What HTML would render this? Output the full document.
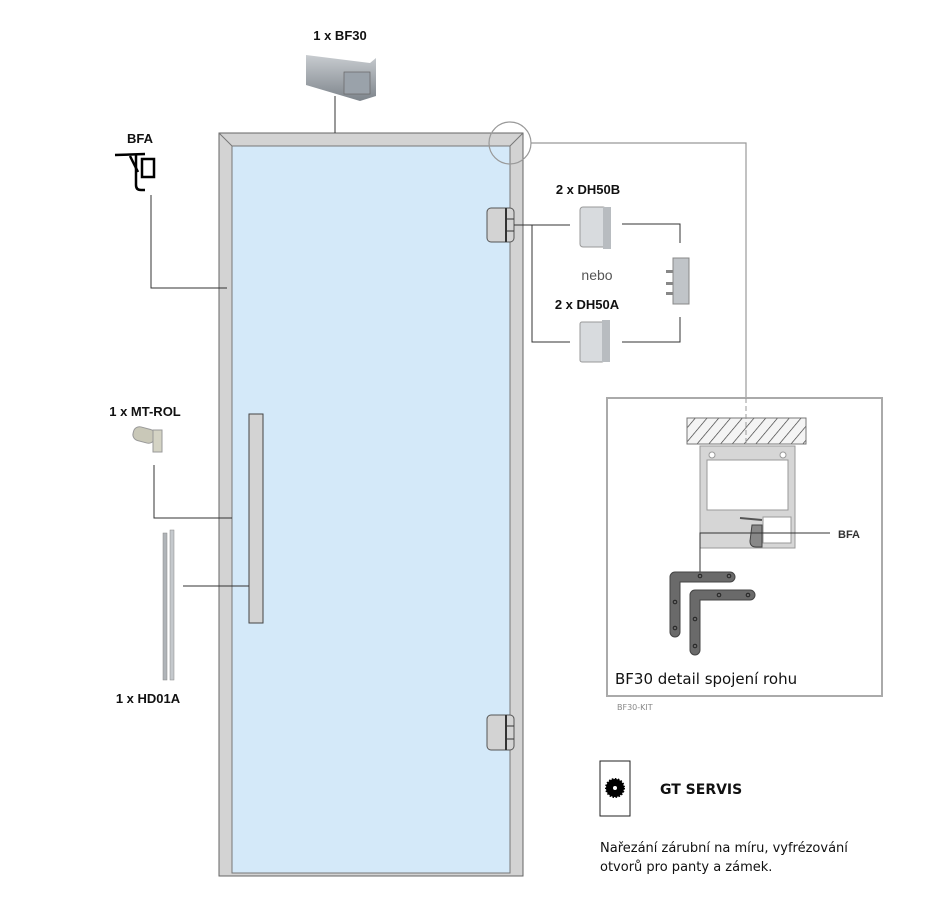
<!DOCTYPE html>
<html><head><meta charset="utf-8"><style>
html,body{margin:0;padding:0;background:#fff;}
svg{display:block}
text{font-family:"Liberation Sans",sans-serif;}
.b{font-weight:bold;font-size:13px;fill:#111}
.v{font-family:"DejaVu Sans",sans-serif;}
</style></head><body>
<svg width="950" height="900" viewBox="0 0 950 900" xmlns="http://www.w3.org/2000/svg">
<defs>
<pattern id="h" width="9" height="9" patternUnits="userSpaceOnUse" patternTransform="rotate(40)">
<rect width="9" height="9" fill="#f4f4f4"/><line x1="0" y1="0" x2="0" y2="9" stroke="#333" stroke-width="1.3"/></pattern>
<linearGradient id="al" x1="0" y1="0" x2="0" y2="1"><stop offset="0" stop-color="#c8ccd0"/><stop offset="1" stop-color="#7d848b"/></linearGradient>
</defs>
<rect x="219" y="133" width="304" height="743" fill="#d3d3d3" stroke="#666" stroke-width="1"/>
<rect x="232" y="146" width="278" height="727" fill="#d4e9f9" stroke="#777" stroke-width="1"/>
<line x1="219" y1="133" x2="232" y2="146" stroke="#777"/>
<line x1="523" y1="133" x2="510" y2="146" stroke="#777"/>
<rect x="249" y="414" width="14" height="209" fill="#d3d3d3" stroke="#444" stroke-width="1"/>
<rect x="487" y="208" width="27" height="34" rx="4" fill="#d3d3d3" stroke="#555"/>
<line x1="506" y1="208" x2="506" y2="242" stroke="#333" stroke-width="2"/>
<line x1="506" y1="219" x2="514" y2="219" stroke="#333"/><line x1="506" y1="231" x2="514" y2="231" stroke="#333"/>
<rect x="487" y="715" width="27" height="35" rx="4" fill="#d3d3d3" stroke="#555"/>
<line x1="506" y1="715" x2="506" y2="750" stroke="#333" stroke-width="2"/>
<line x1="506" y1="726" x2="514" y2="726" stroke="#333"/><line x1="506" y1="739" x2="514" y2="739" stroke="#333"/>
<circle cx="510" cy="143" r="21" fill="none" stroke="#999" stroke-width="1.2"/>
<polyline points="531,143 746,143 746,398" fill="none" stroke="#999" stroke-width="1.2"/>
<g stroke="#333" stroke-width="1" fill="none">
<line x1="335" y1="96" x2="335" y2="133"/>
<polyline points="151,195 151,288 227,288"/>
<polyline points="154,465 154,518 232,518"/>
<line x1="183" y1="586" x2="249" y2="586"/>
<polyline points="514,225 570,225"/>
<polyline points="532,225 532,342 570,342"/>
<polyline points="622,224 680,224 680,243"/>
<polyline points="680,317 680,342 622,342"/>
</g>
<polygon points="306,55 370,63 376,58 376,96 360,101 306,85" fill="url(#al)"/>
<rect x="344" y="72" width="26" height="22" fill="#9aa2aa" stroke="#666" stroke-width="0.7"/>
<text x="340" y="40" class="b" text-anchor="middle">1 x BF30</text>
<text x="140" y="143" class="b" text-anchor="middle">BFA</text>
<g stroke="#000" fill="none" stroke-width="2.5">
<line x1="115" y1="155" x2="145" y2="154"/>
<path d="M136,155 v30 q0,5 5,5 h4"/>
<rect x="142" y="159" width="12" height="18"/>
<path d="M130,156 l8,16"/>
</g>
<g>
<rect x="580" y="207" width="26" height="40" rx="3" fill="#d8dbde" stroke="#999"/>
<rect x="603" y="207" width="8" height="42" fill="#b8bcc0"/>
<rect x="580" y="322" width="24" height="40" rx="2" fill="#d8dbde" stroke="#999"/>
<rect x="602" y="320" width="8" height="42" fill="#b8bcc0"/>
<rect x="673" y="258" width="16" height="46" fill="#c0c4c8" stroke="#888"/>
<rect x="666" y="270" width="7" height="3" fill="#888"/><rect x="666" y="282" width="7" height="3" fill="#888"/><rect x="666" y="292" width="7" height="3" fill="#888"/>
</g>
<text x="588" y="194" class="b" text-anchor="middle">2 x DH50B</text>
<text x="597" y="280" font-size="14" fill="#555" text-anchor="middle">nebo</text>
<text x="587" y="309" class="b" text-anchor="middle">2 x DH50A</text>
<text x="145" y="416" class="b" text-anchor="middle">1 x MT-ROL</text>
<rect x="133" y="428" width="22" height="14" rx="6" fill="#c9c8b8" stroke="#999" transform="rotate(15 144 435)"/>
<rect x="153" y="430" width="9" height="22" fill="#d4d3c4" stroke="#999"/>
<rect x="163" y="533" width="4" height="147" fill="#b0b4b8" stroke="#888" stroke-width="0.5"/>
<rect x="170" y="530" width="4" height="150" fill="#c4c8cc" stroke="#888" stroke-width="0.5"/>
<text x="148" y="703" class="b" text-anchor="middle">1 x HD01A</text>
<rect x="607" y="398" width="275" height="298" fill="#fff" stroke="#aaa" stroke-width="2"/>
<rect x="687" y="418" width="119" height="26" fill="url(#h)" stroke="#777"/>
<line x1="746" y1="398" x2="746" y2="470" stroke="#999" stroke-dasharray="5,3"/>
<rect x="700" y="446" width="95" height="102" fill="#d6d6d6" stroke="#999"/>
<rect x="707" y="460" width="81" height="50" fill="#fff" stroke="#999"/>
<circle cx="712" cy="455" r="3" fill="#fff" stroke="#999"/><circle cx="783" cy="455" r="3" fill="#fff" stroke="#999"/>
<rect x="763" y="517" width="28" height="26" fill="#fff" stroke="#999"/>
<path d="M752,525 h10 v22 h-6 q-6,0 -6,-6z" fill="#888" stroke="#444"/>
<line x1="740" y1="518" x2="762" y2="520" stroke="#555" stroke-width="2"/>
<polyline points="700,578 700,533 830,533" fill="none" stroke="#333"/>
<text x="838" y="538" font-size="11" font-weight="bold" fill="#333">BFA</text>
<g fill="#6a6a6a" stroke="#444">
<path d="M670,577 a5,5 0 0 1 5,-5 h55 a5,5 0 0 1 0,10 h-50 v50 a5,5 0 0 1 -10,0z"/>
<path d="M690,595 a5,5 0 0 1 5,-5 h55 a5,5 0 0 1 0,10 h-50 v50 a5,5 0 0 1 -10,0z"/>
</g>
<g fill="none" stroke="#222" stroke-width="1">
<circle cx="700" cy="576" r="1.8"/><circle cx="729" cy="576" r="1.8"/><circle cx="675" cy="602" r="1.8"/><circle cx="675" cy="628" r="1.8"/>
<circle cx="719" cy="595" r="1.8"/><circle cx="748" cy="595" r="1.8"/><circle cx="695" cy="619" r="1.8"/><circle cx="695" cy="646" r="1.8"/>
</g>
<text x="615" y="684" class="v" font-size="15" fill="#111">BF30 detail spojení rohu</text>
<text x="617" y="710" class="v" font-size="8" fill="#888">BF30-KIT</text>
<rect x="600" y="761" width="30" height="55" fill="#fff" stroke="#222"/>
<circle cx="615" cy="788" r="9" fill="#000" stroke="#000" stroke-width="2" stroke-dasharray="1.5,1.5"/>
<circle cx="615" cy="788" r="2" fill="#fff"/>
<text x="660" y="794" class="v" font-size="14" font-weight="bold" fill="#111">GT SERVIS</text>
<text x="600" y="852" class="v" font-size="13" fill="#111">Nařezání zárubní na míru, vyfrézování</text>
<text x="600" y="871" class="v" font-size="13" fill="#111">otvorů pro panty a zámek.</text>
</svg>
</body></html>
